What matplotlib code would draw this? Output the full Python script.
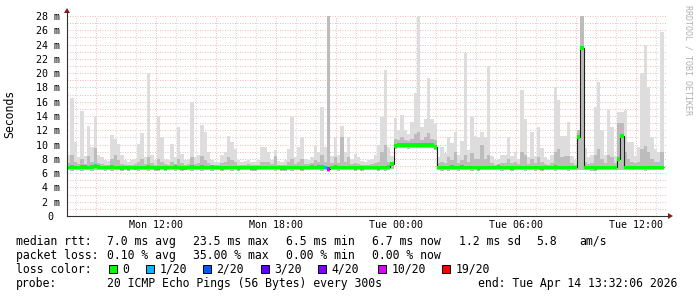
import numpy as np
import matplotlib
matplotlib.use("Agg")
import matplotlib.pyplot as plt
from matplotlib.patches import Rectangle, Polygon
from matplotlib.lines import Line2D

W, H = 697, 297
START = 7.535      # Mon 07:32:06, hours since Mon 00:00
SPAN = 30.0        # hours shown
STEP = 1 / 6       # 10 minute bins

# median rtt per bin (ms)
median = [
    6.8, 6.9, 6.8, 6.8, 6.9, 6.9, 6.8, 6.9, 7.0, 6.9, 6.8, 6.8,
    6.8, 6.9, 6.8, 6.8, 6.7, 6.8, 6.7, 6.8, 6.7, 6.8, 6.8, 6.8,
    6.9, 6.8, 6.7, 6.7, 6.8, 6.7, 6.8, 6.8, 6.9, 6.8, 6.7, 6.7,
    6.8, 6.9, 6.8, 6.8, 6.9, 6.8, 6.8, 6.9, 6.8, 6.8, 6.7, 6.8,
    6.8, 6.8, 6.8, 6.7, 6.8, 6.8, 6.8, 6.7, 6.7, 6.8, 6.8, 6.8,
    6.8, 6.8, 6.8, 6.8, 6.7, 6.7, 6.8, 6.8, 6.8, 6.8, 6.7, 6.8,
    6.8, 6.9, 6.8, 6.9, 6.9, 6.8, 6.6, 6.8, 6.9, 6.8, 6.8, 6.8,
    6.8, 6.8, 6.7, 6.8, 6.7, 6.8, 6.8, 6.8, 6.8, 6.7, 6.8, 6.8,
    6.9, 7.3, 9.8, 9.9, 9.9, 9.9, 9.9, 9.9, 9.9, 10.0, 9.9, 9.9,
    9.9, 9.9, 9.7, 6.8, 6.8, 6.8, 6.8, 6.9, 6.8, 6.8, 6.9, 6.8,
    6.8, 6.8, 6.8, 6.7, 6.8, 6.8, 6.8, 6.8, 6.8, 6.9, 6.8, 6.8,
    6.8, 6.7, 6.8, 6.8, 6.8, 6.8, 6.8, 6.8, 6.8, 6.8, 6.7, 6.8,
    6.8, 6.8, 6.9, 6.8, 6.8, 6.8, 6.8, 6.8, 6.8, 11.1, 23.5, 6.8,
    6.8, 6.8, 6.7, 6.8, 6.8, 6.8, 6.8, 6.8, 6.8, 8.0, 11.2, 6.8,
    6.8, 6.8, 6.8, 6.8, 6.8, 6.8, 6.8, 6.8, 6.8, 6.8, 6.8,
]

# slowest ping per bin (top of smoke)
smoke_hi = [
    8.6, 16.5, 10.4, 8.2, 14.7, 8.4, 12.6, 9.7, 13.9, 8.5, 8.3, 7.8,
    7.7, 11.3, 10.8, 10.1, 8.5, 7.8, 7.6, 7.8, 8.0, 10.1, 11.6, 8.2,
    20.0, 8.6, 7.9, 14.0, 11.0, 8.0, 7.8, 10.1, 8.2, 12.5, 8.7, 7.8,
    8.0, 16.0, 8.3, 8.6, 12.7, 11.8, 9.0, 7.8, 7.6, 7.6, 8.5, 9.0,
    11.2, 10.3, 9.4, 7.9, 7.6, 7.7, 7.8, 7.5, 7.6, 7.8, 9.6, 9.6,
    8.9, 7.9, 9.2, 7.7, 7.6, 7.8, 9.4, 13.9, 8.2, 9.7, 11.0, 8.0,
    7.8, 8.2, 9.8, 9.0, 15.2, 9.6, 28.5, 8.4, 11.0, 8.6, 12.6, 9.0,
    11.1, 8.0, 8.7, 8.2, 7.7, 7.6, 7.8, 8.0, 8.6, 9.9, 13.9, 20.4,
    9.6, 8.4, 13.7, 12.0, 14.2, 12.0, 11.5, 13.1, 17.2, 28.5, 12.4, 13.6,
    19.3, 13.6, 12.9, 8.2, 9.6, 8.8, 11.0, 10.2, 11.7, 8.6, 10.5, 22.8,
    9.2, 14.0, 11.2, 11.0, 11.8, 11.0, 21.0, 8.4, 7.8, 8.0, 8.6, 8.6,
    11.1, 8.4, 9.0, 8.0, 17.6, 13.6, 8.2, 11.8, 8.4, 12.4, 9.5, 8.3,
    7.9, 8.6, 18.0, 16.2, 11.2, 11.2, 13.2, 8.4, 7.8, 12.0, 28.5, 9.5,
    8.2, 8.6, 15.2, 18.8, 12.0, 8.6, 14.8, 12.5, 8.4, 14.6, 14.6, 14.9,
    10.4, 10.4, 8.4, 9.6, 20.0, 23.9, 18.0, 11.0, 9.4, 9.0, 25.8,
]

# upper edge of the dense part of the smoke
smoke_mid = [
    7.4, 8.5, 7.6, 7.3, 8.0, 7.3, 8.4, 7.6, 9.5, 7.4, 7.3, 7.2,
    7.2, 8.0, 8.5, 7.8, 7.3, 7.2, 7.2, 7.2, 7.3, 7.6, 8.0, 7.3,
    8.3, 7.4, 7.2, 8.0, 7.6, 7.3, 7.2, 7.5, 7.3, 8.0, 7.4, 7.2,
    7.3, 8.2, 7.3, 7.4, 8.4, 7.8, 7.4, 7.2, 7.2, 7.2, 7.4, 7.6,
    8.2, 7.8, 7.5, 7.2, 7.2, 7.2, 7.3, 7.2, 7.2, 7.2, 7.6, 7.6,
    7.5, 7.3, 8.4, 7.2, 7.2, 7.2, 7.5, 8.0, 7.3, 7.6, 8.0, 7.3,
    7.3, 7.4, 7.8, 7.5, 8.5, 7.6, 28.5, 7.4, 8.2, 7.4, 11.0, 7.6,
    8.3, 7.3, 7.4, 7.3, 7.2, 7.2, 7.2, 7.3, 7.4, 7.6, 9.0, 10.0,
    7.6, 7.4, 10.8, 10.6, 11.0, 10.6, 10.5, 10.8, 11.5, 11.8, 10.6, 11.0,
    11.6, 10.8, 10.6, 7.4, 7.6, 7.4, 8.3, 7.8, 9.0, 7.4, 7.8, 8.5,
    7.5, 8.8, 8.0, 8.0, 9.9, 8.0, 8.5, 7.4, 7.2, 7.3, 7.4, 7.4,
    8.0, 7.4, 7.5, 7.3, 9.0, 8.5, 7.3, 8.0, 7.4, 8.2, 7.6, 7.3,
    7.2, 7.4, 9.0, 9.4, 8.2, 8.4, 8.4, 7.4, 7.2, 12.0, 28.5, 7.6,
    7.3, 7.4, 8.5, 9.4, 8.0, 7.4, 8.6, 8.2, 7.4, 13.0, 13.0, 9.0,
    8.0, 7.6, 7.4, 7.6, 9.4, 9.8, 9.0, 8.0, 7.6, 7.5, 9.0,
]

# fastest ping per bin (bottom of smoke)
smoke_lo = [
    6.4, 6.3, 6.4, 6.4, 6.3, 6.4, 6.4, 6.3, 6.4, 6.4, 6.4, 6.3,
    6.4, 6.3, 6.4, 6.4, 6.3, 6.4, 6.3, 6.4, 6.4, 6.3, 6.4, 6.4,
    6.3, 6.4, 6.3, 6.3, 6.4, 6.3, 6.4, 6.4, 6.3, 6.4, 6.3, 6.4,
    6.4, 6.3, 6.4, 6.4, 6.3, 6.4, 6.4, 6.3, 6.4, 6.4, 6.3, 6.4,
    6.4, 6.3, 6.4, 6.3, 6.4, 6.4, 6.4, 6.3, 6.3, 6.4, 6.4, 6.4,
    6.4, 6.4, 6.3, 6.4, 6.3, 6.3, 6.4, 6.3, 6.4, 6.4, 6.3, 6.4,
    6.4, 6.4, 6.4, 6.4, 6.3, 6.4, 6.2, 6.4, 6.4, 6.3, 6.4, 6.4,
    6.4, 6.4, 6.3, 6.4, 6.3, 6.4, 6.4, 6.4, 6.4, 6.3, 6.4, 6.3,
    6.5, 6.6, 9.4, 9.5, 9.5, 9.5, 9.4, 9.5, 9.5, 9.5, 9.5, 9.5,
    9.5, 9.5, 9.3, 6.4, 6.3, 6.4, 6.3, 6.4, 6.4, 6.3, 6.4, 6.4,
    6.4, 6.3, 6.4, 6.3, 6.4, 6.4, 6.4, 6.4, 6.4, 6.4, 6.3, 6.4,
    6.4, 6.3, 6.4, 6.4, 6.4, 6.3, 6.4, 6.4, 6.3, 6.4, 6.3, 6.4,
    6.4, 6.4, 6.3, 6.4, 6.4, 6.4, 6.3, 6.4, 6.4, 6.5, 6.5, 6.4,
    6.4, 6.3, 6.3, 6.4, 6.4, 6.4, 6.4, 6.4, 6.4, 6.4, 6.5, 6.4,
    6.4, 6.4, 6.4, 6.4, 6.4, 6.3, 6.4, 6.4, 6.4, 6.4, 6.4,
]

# bins with packet loss (index, lost pings out of 20)
loss_bins = [77, 78]
loss_pings = [1, 7]

loss_levels = ["0", "1/20", "2/20", "3/20", "4/20", "10/20", "19/20"]
loss_limits = [0, 1, 2, 3, 4, 10, 19]
loss_colors = ["#00ff00", "#00b8ff", "#0059ff", "#5e00ff", "#7e00ff", "#dd00ff", "#ff0000"]

rtt_stats = ["7.0 ms avg", "23.5 ms max", "6.5 ms min", "6.7 ms now", "1.2 ms sd", "5.8", "am/s"]
loss_stats = ["0.10 % avg", "35.00 % max", "0.00 % min", "0.00 % now"]
probe_text = "20 ICMP Echo Pings (56 Bytes) every 300s"
end_text = "end: Tue Apr 14 13:32:06 2026"

x_ticks = [12, 18, 24, 30, 36]
x_labels = ["Mon 12:00", "Mon 18:00", "Tue 00:00", "Tue 06:00", "Tue 12:00"]

plt.rcParams["font.family"] = "DejaVu Sans Mono"

fig = plt.figure(figsize=(W / 100, H / 100), dpi=100)
fig.patch.set_facecolor("white")
ax = fig.add_axes([67 / W, 81 / H, 600 / W, 200 / H])
ax.set_xlim(START, START + SPAN)
ax.set_ylim(0, 28)
for s in ax.spines.values():
    s.set_visible(False)

# grid: hourly gray, 3-hourly and every ms pinkish, dotted
ax.set_xticks(np.arange(9, 38, 3))
ax.set_xticks(np.arange(8, 38, 1), minor=True)
ax.set_yticks(np.arange(1, 29, 1))
ax.tick_params(which="both", length=0, labelbottom=False, labelleft=False)
ax.grid(which="major", axis="both", color="#de5050", alpha=0.38, lw=0.72, ls=(0, (1, 1.5)))
ax.grid(which="minor", axis="x", color="#8f8f8f", alpha=0.35, lw=0.72, ls=(0, (1, 1.5)))
ax.set_axisbelow(True)

edges = START + np.arange(len(median) + 1) * STEP
med = np.array(median)

ax.stairs(smoke_hi, edges, baseline=smoke_lo, fill=True, color="#dddddd", lw=0, zorder=2)
ax.stairs(smoke_mid, edges, baseline=smoke_lo, fill=True, color="#bcbcbc", lw=0, zorder=2.1)
ax.stairs(med, edges, baseline=None, color="#202020", lw=0.8, zorder=3)

band = 0.27
ax.stairs(med + band, edges, baseline=med - band, fill=True, color=loss_colors[0], lw=0, zorder=4)
for b, n in zip(loss_bins, loss_pings):
    k = next(i for i, lim in enumerate(loss_limits) if lim >= n)
    ax.bar(edges[b], 2 * band, width=STEP, bottom=med[b] - band, align="edge",
           color=loss_colors[k], lw=0, zorder=4.1)

# axis labels
for t, lab in zip(x_ticks, x_labels):
    ax.text(t, -12.5 / 200, lab, transform=ax.get_xaxis_transform(),
            ha="center", va="baseline", fontsize=7.2)
for v in range(0, 29, 2):
    ax.text(-7 / 600, v, f"{v} m" if v else "0 ", transform=ax.get_yaxis_transform(),
            ha="right", va="center_baseline", fontsize=7.2)


def px(x, y):
    return x / W, 1 - y / H


def ftext(x, y, s, **kw):
    fig.text(*px(x, y), s, va="baseline", fontsize=8.3, **kw)


# axes lines and arrows
fig.add_artist(Line2D([67 / W, 668 / W], [1 - 216 / H] * 2, color="#303030", lw=0.8))
fig.add_artist(Line2D([67 / W] * 2, [1 - 216 / H, 1 - 12 / H], color="#303030", lw=0.8))
fig.add_artist(Polygon([px(67, 8), px(64, 13), px(70, 13)], closed=True,
                       transform=fig.transFigure, color="#8b1a1a", lw=0))
fig.add_artist(Polygon([px(673, 216), px(668, 213), px(668, 219)], closed=True,
                       transform=fig.transFigure, color="#8b1a1a", lw=0))

fig.text(*px(10, 114), "Seconds", rotation=90, ha="center", va="center", fontsize=8.3)
fig.text(*px(688, 5), "RRDTOOL / TOBI OETIKER", rotation=270, ha="center", va="top",
         fontsize=6, color="#b0b0b0")

# legend
ftext(16, 245, "median rtt:")
for x, s in zip([107, 193, 286, 372, 459, 536, 579], rtt_stats):
    ftext(x, 245, s)
ftext(16, 259, "packet loss:")
for x, s in zip([107, 193, 286, 372], loss_stats):
    ftext(x, 259, s)
ftext(16, 273, "loss color:")
for x, lab, c in zip([109, 146, 203, 261, 318, 378, 442], loss_levels, loss_colors):
    fig.add_artist(Rectangle(px(x, 273), 8 / W, 8 / H, transform=fig.transFigure,
                             facecolor=c, edgecolor="black", lw=0.7))
    ftext(x + 13.5, 273, lab)
ftext(16, 287, "probe:")
ftext(107, 287, probe_text)
ftext(478, 287, end_text)

fig.savefig("out.png", dpi=100, facecolor="white")
